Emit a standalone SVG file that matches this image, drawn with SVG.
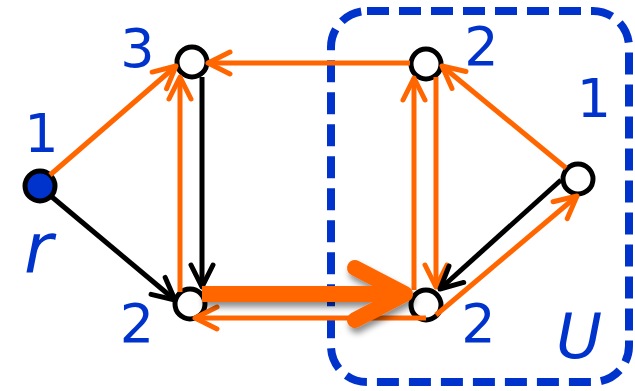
<svg xmlns="http://www.w3.org/2000/svg" width="635" height="391" viewBox="0 0 635 391">
<style>
.lbl{font-family:"DejaVu Sans","Verdana",sans-serif;font-size:54px;fill:#0033cc;text-anchor:middle}
.it{font-family:"DejaVu Sans","Verdana",sans-serif;font-style:italic;fill:#0033cc}
.node{fill:#fff;stroke:#000;stroke-width:5}
.org{fill:none;stroke:#ff6600;stroke-width:5}
.blk{fill:none;stroke:#000;stroke-width:5}
</style>
<defs>
<marker id="ao" markerUnits="userSpaceOnUse" orient="auto" markerWidth="60" markerHeight="60" refX="0" refY="0" viewBox="-30 -30 60 60" overflow="visible">
<path d="M-22,-11 L0,0 L-22,11" fill="none" stroke="#ff6600" stroke-width="5" stroke-linecap="round" stroke-linejoin="round"/>
</marker>
<marker id="ab" markerUnits="userSpaceOnUse" orient="auto" markerWidth="60" markerHeight="60" refX="0" refY="0" viewBox="-30 -30 60 60" overflow="visible">
<path d="M-22,-11 L0,0 L-22,11" fill="none" stroke="#000" stroke-width="5" stroke-linecap="round" stroke-linejoin="round"/>
</marker>
<filter id="sh" x="-20%" y="-50%" width="140%" height="200%">
<feDropShadow dx="2" dy="5" stdDeviation="3" flood-color="#000" flood-opacity="0.45"/>
</filter>
</defs>
<g id="U">
<rect x="331" y="11" width="298" height="371" rx="36" ry="36" fill="none" stroke="#0033cc" stroke-width="8" stroke-dasharray="22 10"/>
<text class="it" x="556" y="358" font-size="63">U</text>
</g>
<g id="node-r">
<circle cx="40" cy="186" r="15" fill="#0033cc" stroke="#000" stroke-width="5"/>
<text class="lbl" x="41.5" y="152">1</text>
<text class="it" x="24" y="272" font-size="70">r</text>
</g>
<g id="node-a">
<circle class="node" cx="192" cy="62" r="15"/>
<text class="lbl" x="137.5" y="67">3</text>
</g>
<g id="node-b">
<circle class="node" cx="426" cy="64" r="15"/>
<text class="lbl" x="481.5" y="65">2</text>
</g>
<g id="node-c">
<circle class="node" cx="578" cy="179" r="15"/>
<text class="lbl" x="594" y="117">1</text>
</g>
<g id="node-d">
<circle class="node" cx="190" cy="304" r="15"/>
<text class="lbl" x="137" y="342">2</text>
</g>
<g id="node-e">
<circle class="node" cx="426" cy="305" r="15"/>
<text class="lbl" x="478.5" y="342">2</text>
</g>
<g id="connectors">
<path class="org" d="M50,175 L176,66" marker-end="url(#ao)"/>
<path class="blk" d="M52,197 L175,300" marker-end="url(#ab)"/>
<path class="blk" d="M202,77 L202,287" marker-end="url(#ab)"/>
<path class="org" d="M180,292 L180,77" marker-end="url(#ao)"/>
<path class="org" d="M410,63 L208,63" marker-end="url(#ao)"/>
<path class="org" d="M566,168 L442,66" marker-end="url(#ao)"/>
<path class="org" d="M414,290 L414,78" marker-end="url(#ao)"/>
<path class="org" d="M436,77 L436,287" marker-end="url(#ao)"/>
<path class="blk" d="M561,180 L440,289" marker-end="url(#ab)"/>
<path class="org" d="M436,315 L577,196" marker-end="url(#ao)"/>
<path class="org" d="M426,318 L195,318" marker-end="url(#ao)"/>
<g filter="url(#sh)">
<path d="M202,294 L404,294" fill="none" stroke="#ff6600" stroke-width="16"/>
<path d="M355,268 L405,294 L355,320" fill="none" stroke="#ff6600" stroke-width="16" stroke-linecap="round" stroke-linejoin="round"/>
</g>
</g>
</svg>
